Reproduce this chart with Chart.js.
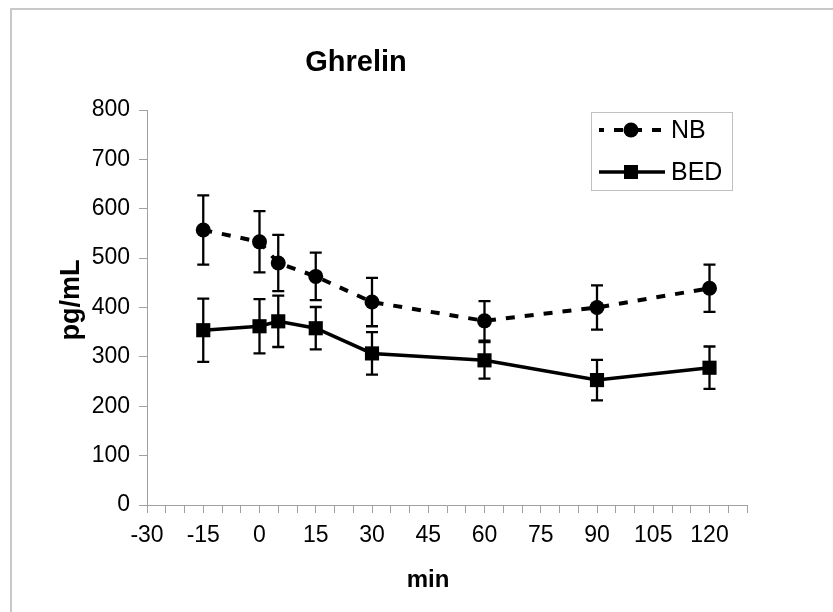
<!DOCTYPE html>
<html>
<head>
<meta charset="utf-8">
<script src="https://cdn.jsdelivr.net/npm/chart.js@4/dist/chart.umd.min.js"></script>
<style>
  html, body { margin: 0; padding: 0; background: #fff; }
  #wrap { width: 833px; height: 612px; }
</style>
</head>
<body>
<div id="wrap"><canvas id="chart" width="833" height="612"></canvas></div>
<script>
// Ghrelin, mean +/- SEM
const minutes = [-15, 0, 5, 15, 30, 60, 90, 120];
const nbMean = [557, 533, 490, 463, 411, 373, 400, 439];
const nbErr = [70, 62, 57, 48, 49, 40, 45, 48];
const bedMean = [354, 362, 372, 358, 307, 293, 253, 278];
const bedErr = [64, 55, 52, 43, 43, 37, 41, 43];
const seriesNames = ['NB', 'BED'];
const yTicks = [0, 100, 200, 300, 400, 500, 600, 700, 800];

const font = "'Liberation Sans', Arial, sans-serif";
const narrow = "'Liberation Sans Narrow', 'Arial Narrow', 'Liberation Sans', sans-serif";

function points(xs, ys) {
    return xs.map((x, i) => ({ x: x, y: ys[i] }));
}

// vertical error bars with caps
const errorBars = {
    id: 'errorBars',
    afterDatasetsDraw(chart) {
        const ctx = chart.ctx;
        const xs = chart.scales.x, ys = chart.scales.y;
        ctx.save();
        ctx.strokeStyle = '#000';
        ctx.lineWidth = 2.3;
        chart.data.datasets.forEach(ds => {
            ds.data.forEach((p, i) => {
                const px = xs.getPixelForValue(p.x);
                const top = ys.getPixelForValue(p.y + ds.err[i]);
                const bot = ys.getPixelForValue(p.y - ds.err[i]);
                ctx.beginPath();
                ctx.moveTo(px, top); ctx.lineTo(px, bot);
                ctx.moveTo(px - 6, top); ctx.lineTo(px + 6, top);
                ctx.moveTo(px - 6, bot); ctx.lineTo(px + 6, bot);
                ctx.stroke();
            });
        });
        ctx.restore();
    }
};

// frame, titles and legend box
const decor = {
    id: 'decor',
    beforeDraw(chart) {
        const ctx = chart.ctx;
        ctx.save();
        ctx.strokeStyle = '#c8c8c8';
        ctx.lineWidth = 2;
        ctx.beginPath();
        ctx.moveTo(11, 612); ctx.lineTo(11, 9); ctx.lineTo(833, 9);
        ctx.stroke();
        ctx.restore();
    },
    afterDraw(chart) {
        const ctx = chart.ctx;
        ctx.save();
        ctx.fillStyle = '#000';
        ctx.textAlign = 'center';
        ctx.textBaseline = 'middle';
        ctx.font = "bold 29px " + font;
        ctx.fillText('Ghrelin', 356, 63);

        // axis titles
        ctx.font = "bold 24px " + font;
        ctx.fillText('min', 428, 580);
        ctx.save();
        ctx.translate(72, 300);
        ctx.rotate(-Math.PI / 2);
        ctx.font = "bold 27px " + font;
        ctx.fillText('pg/mL', 0, 0);
        ctx.restore();

        // legend
        ctx.strokeStyle = '#c0c0c0';
        ctx.lineWidth = 1;
        ctx.strokeRect(591.5, 112.5, 141, 78);
        const rows = [130, 172];
        chart.data.datasets.forEach((ds, i) => {
            const y = rows[i];
            ctx.strokeStyle = '#000';
            ctx.lineWidth = ds.borderWidth;
            ctx.setLineDash(ds.borderDash || []);
            ctx.lineDashOffset = ds.borderDash ? 4 : 0;
            ctx.beginPath();
            ctx.moveTo(599, y); ctx.lineTo(665, y);
            ctx.stroke();
            ctx.setLineDash([]);
            ctx.fillStyle = '#000';
            if (ds.pointStyle === 'circle') {
                ctx.beginPath();
                ctx.arc(631, y, 7.5, 0, Math.PI * 2);
                ctx.fill();
            } else {
                ctx.fillRect(624, y - 7, 14, 14);
            }
            ctx.font = "25px " + font;
            ctx.textAlign = 'left';
            ctx.fillText(ds.label, 671, y + 1);
        });
        ctx.restore();
    }
};

new Chart(document.getElementById('chart'), {
    type: 'line',
    data: {
        datasets: [{
            label: seriesNames[0],
            data: points(minutes, nbMean),
            err: nbErr,
            borderColor: '#000',
            backgroundColor: '#000',
            borderWidth: 4,
            borderDash: [9, 10],
            pointStyle: 'circle',
            pointRadius: 7.5,
            pointBorderWidth: 0,
            tension: 0
        }, {
            label: seriesNames[1],
            data: points(minutes, bedMean),
            err: bedErr,
            borderColor: '#000',
            backgroundColor: '#000',
            borderWidth: 3.5,
            pointStyle: 'rect',
            pointRadius: 10,
            pointBorderWidth: 0,
            tension: 0
        }]
    },
    options: {
        responsive: false,
        animation: false,
        devicePixelRatio: 1,
        layout: { padding: { top: 110, right: 86, bottom: 17, left: 56 } },
        plugins: {
            legend: { display: false },
            title: { display: false },
            tooltip: { enabled: false }
        },
        scales: {
            x: {
                type: 'linear',
                min: -30,
                max: 130,
                afterFit: s => { s.height = 90; },
                afterBuildTicks: s => {
                    const t = [];
                    for (let v = -30; v <= 130; v += 5) t.push({ value: v });
                    s.ticks = t;
                },
                ticks: {
                    autoSkip: false,
                    maxRotation: 0,
                    padding: 9,
                    color: '#000',
                    font: { family: narrow, size: 23 },
                    callback: v => (v % 15 === 0 && v <= 120) ? String(v) : ''
                },
                grid: { drawOnChartArea: false, drawTicks: true, tickLength: 8, color: '#a0a0a0' },
                border: { color: '#a0a0a0', width: 1 },
                title: { display: false }
            },
            y: {
                min: 0,
                max: 800,
                afterFit: s => { s.width = 91; },
                afterBuildTicks: s => { s.ticks = yTicks.map(v => ({ value: v })); },
                ticks: {
                    padding: 9,
                    color: '#000',
                    font: { family: narrow, size: 23 }
                },
                grid: { drawOnChartArea: false, drawTicks: true, tickLength: 8, color: '#a0a0a0' },
                border: { color: '#a0a0a0', width: 1 },
                title: { display: false }
            }
        }
    },
    plugins: [decor, errorBars]
});
</script>
</body>
</html>
